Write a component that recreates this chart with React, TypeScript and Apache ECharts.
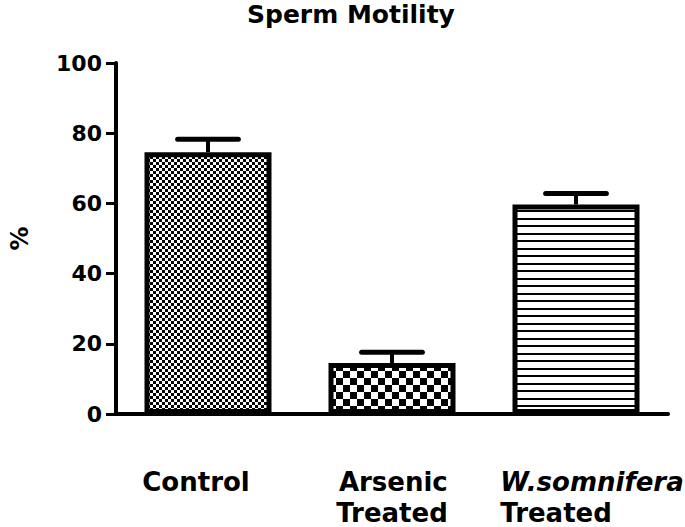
import React, { useEffect, useRef } from "react";
import * as echarts from "echarts";

const categories = ["Control", "Arsenic Treated", "W.somnifera Treated"];
const means = [74.6, 14.5, 59.7];
const errors = [3.7, 3.1, 3.1];
const yMin = 0;
const yMax = 100;
const yInterval = 20;

function checker(cell: number) {
  const c = document.createElement("canvas");
  c.width = cell * 2;
  c.height = cell * 2;
  const ctx = c.getContext("2d")!;
  ctx.fillStyle = "#fff";
  ctx.fillRect(0, 0, c.width, c.height);
  ctx.fillStyle = "#000";
  ctx.fillRect(0, 0, cell, cell);
  ctx.fillRect(cell, cell, cell, cell);
  return c;
}

function hlines() {
  const c = document.createElement("canvas");
  c.width = 4;
  c.height = 15;
  const ctx = c.getContext("2d")!;
  ctx.fillStyle = "#fff";
  ctx.fillRect(0, 0, c.width, c.height);
  ctx.fillStyle = "#000";
  ctx.fillRect(0, 0, 4, 2);
  ctx.fillRect(0, 8, 4, 2);
  return c;
}

export default function App() {
  const ref = useRef<HTMLDivElement>(null);
  useEffect(() => {
    if (!ref.current) return;
    const chart = echarts.init(ref.current, null, { renderer: "svg" });
    const patterns = [checker(3), checker(7), hlines()];
    const font = "DejaVu Sans";
    chart.setOption({
      animation: false,
      backgroundColor: "#fff",
      title: {
        text: "Sperm Motility",
        left: 247,
        top: 2,
        padding: 0,
        textStyle: { fontFamily: font, fontWeight: "bold", fontSize: 25, color: "#000" },
      },
      grid: { left: 100, right: 17, top: 63, bottom: 113 },
      xAxis: {
        type: "category",
        data: categories,
        axisLine: { lineStyle: { color: "#000", width: 4 } },
        axisTick: { alignWithLabel: true, length: 10, lineStyle: { color: "#000", width: 3 } },
        axisLabel: {
          interval: 0,
          margin: 52,
          verticalAlign: "top",
          formatter: (_v: string, i: number) => {
            if (i === 0) return "{c|Control}";
            if (i === 1) return "{r|Arsenic}\n{r|Treated}";
            return "{i|W.somnifera}\n{l|Treated}";
          },
          rich: {
            c: { fontFamily: font, fontWeight: "bold", fontSize: 26, lineHeight: 31, color: "#000", padding: [0, 24, 0, 0] },
            r: { fontFamily: font, fontWeight: "bold", fontSize: 26, lineHeight: 31, color: "#000", align: "right" },
            i: { fontFamily: font, fontWeight: "bold", fontStyle: "italic", fontSize: 26, lineHeight: 31, color: "#000", align: "left", padding: [0, 0, 0, 32] },
            l: { fontFamily: font, fontWeight: "bold", fontSize: 26, lineHeight: 31, color: "#000", align: "left", padding: [0, 0, 0, 32] },
          },
        },
      },
      yAxis: {
        type: "value",
        min: yMin,
        max: yMax,
        interval: yInterval,
        name: "%",
        nameLocation: "middle",
        nameRotate: 90,
        nameGap: 84,
        nameTextStyle: { fontFamily: font, fontWeight: "bold", fontSize: 24, color: "#000" },
        splitLine: { show: false },
        axisLine: { show: true, lineStyle: { color: "#000", width: 4 } },
        axisTick: { show: true, length: 10, lineStyle: { color: "#000", width: 3 } },
        axisLabel: { margin: 14, fontFamily: font, fontWeight: "bold", fontSize: 22, color: "#000" },
      },
      series: [
        {
          type: "bar",
          barWidth: 127,
          data: means.map((m, i) => ({
            value: m,
            itemStyle: { color: { image: patterns[i], repeat: "repeat" }, borderColor: "#000", borderWidth: 5 },
          })),
          z: 2,
        },
        {
          type: "custom",
          z: 3,
          data: means.map((m, i) => [i, m, m + errors[i]]),
          encode: { x: 0, y: [1, 2] },
          renderItem: (_p: any, api: any) => {
            const idx = api.value(0);
            const base = api.coord([idx, api.value(1)]);
            const top = api.coord([idx, api.value(2)]);
            const hw = api.size([1, 0])[0] * 0.165;
            return {
              type: "group",
              children: [
                { type: "line", shape: { x1: base[0], y1: base[1], x2: top[0], y2: top[1] }, style: { stroke: "#000", lineWidth: 4 } },
                { type: "line", shape: { x1: top[0] - hw, y1: top[1], x2: top[0] + hw, y2: top[1] }, style: { stroke: "#000", lineWidth: 5, lineCap: "round" } },
              ],
            };
          },
        },
      ],
    });
    return () => chart.dispose();
  }, []);
  return <div ref={ref} style={{ position: "absolute", left: 0, top: 0, width: 685, height: 527 }} />;
}
